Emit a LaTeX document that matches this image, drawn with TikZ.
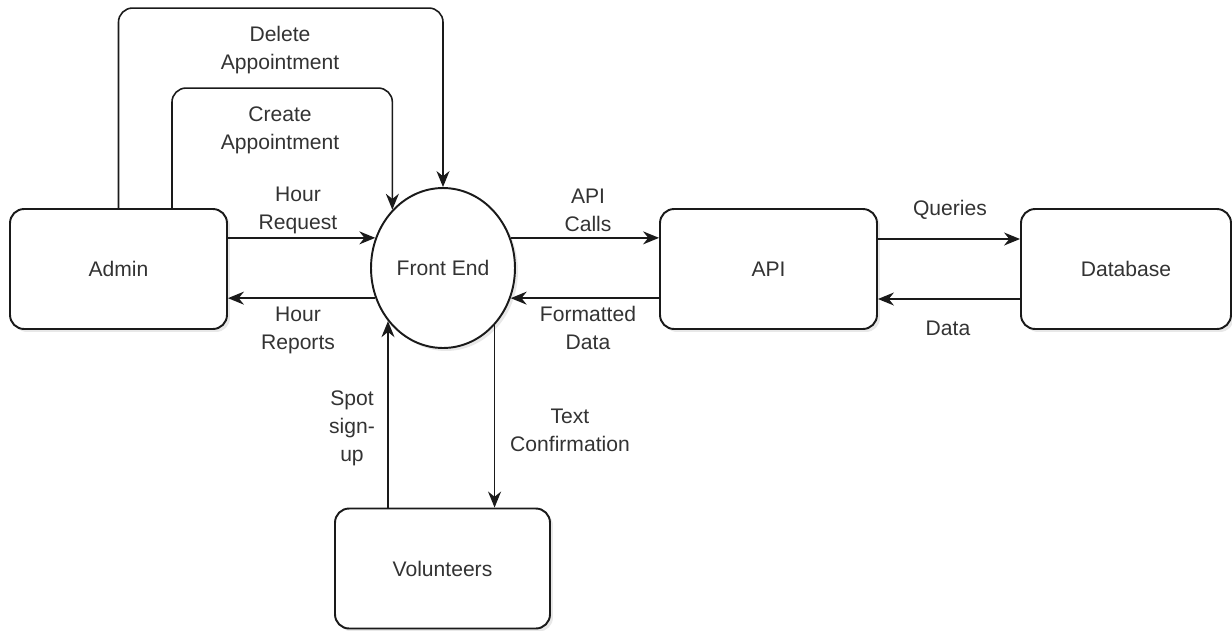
\documentclass[tikz,border=0pt]{standalone}
\usepackage{fontspec}
\setmainfont{Liberation Sans}
\usetikzlibrary{shapes.geometric,arrows.meta,shadows}
\definecolor{texto}{HTML}{333333}
\definecolor{linea}{HTML}{1A1A1A}
\tikzset{
	caja/.style={draw=linea, line width=1.1pt, fill=white, rounded corners=8pt,
		minimum width=4.34cm, minimum height=2.4cm, text=texto,
		drop shadow={opacity=0.18, shadow xshift=0.06cm, shadow yshift=-0.06cm}},
	proceso/.style={ellipse, draw=linea, line width=1.1pt, fill=white, inner sep=0pt,
		minimum width=2.88cm, minimum height=3.2cm, text=texto,
		drop shadow={opacity=0.18, shadow xshift=0.06cm, shadow yshift=-0.06cm}},
	flujo/.style={draw=linea, line width=0.9pt, rounded corners=8pt,
		-{Stealth[length=3.2mm, width=2.6mm]}},
	etiqueta/.style={align=center, text=texto, inner sep=1pt}
}

\begin{document}
\begin{tikzpicture}[x=0.02cm, y=-0.02cm, font=\fontsize{12}{16}\selectfont]
		\useasboundingbox (0,0) rectangle (1232,630);
		% nodos
		\node[caja] (admin) at (118.5,269) {Admin};
		\node[proceso] (fe) at (443,268) {Front End};
		\node[caja] (api) at (768.5,269) {API};
		\node[caja, minimum width=4.2cm] (db) at (1126,269) {Database};
		\node[caja, minimum width=4.3cm] (vol) at (442.5,568.5) {Volunteers};
		% flujos
		\draw[flujo] (admin.north) -- ++(0,-200) -| (fe.north);
		\draw[flujo] ([xshift=1.07cm]admin.north) -- ++(0,-120) -| (fe.131);
		\draw[flujo] (admin.east |- fe.156) -- (fe.156);
		\draw[flujo] (fe.204) -- (admin.east |- fe.204);
		\draw[flujo] (fe.24) -- (api.west |- fe.24);
		\draw[flujo] (api.west |- fe.336) -- (fe.336);
		\draw[flujo] ([yshift=0.6cm]api.east) -- ([yshift=0.6cm]db.west);
		\draw[flujo] ([yshift=-0.6cm]db.west) -- ([yshift=-0.6cm]api.east);
		\draw[flujo] (vol.north -| fe.224) -- (fe.224);
		\draw[flujo] (fe.312) -- (fe.312 |- vol.north);
		% etiquetas
		\node[etiqueta] (ldelete) at (280,50) {Delete\\Appointment};
		\node[etiqueta] (lcreate) at (280,130) {Create\\Appointment};
		\node[etiqueta] (lhreq) at (298,210) {Hour\\Request};
		\node[etiqueta] (lhrep) at (298,330) {Hour\\Reports};
		\node[etiqueta] (lcalls) at (588,210) {API\\Calls};
		\node[etiqueta] (lformat) at (588,328) {Formatted\\Data};
		\node[etiqueta] (lqueries) at (950,210) {Queries};
		\node[etiqueta] (ldata) at (948,328) {Data};
		\node[etiqueta] (lspot) at (352,428) {Spot\\sign-\\up};
		\node[etiqueta] (ltext) at (570,430) {Text\\Confirmation};
		\end{tikzpicture}
\end{document}
